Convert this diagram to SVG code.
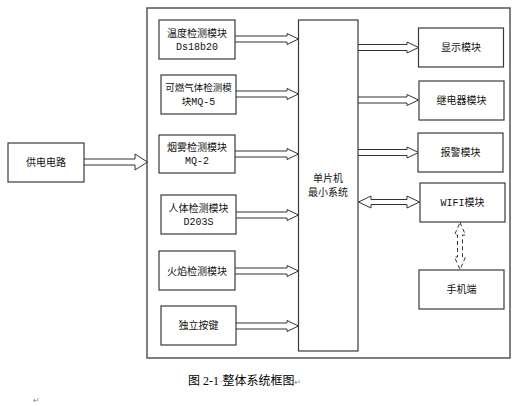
<svg xmlns="http://www.w3.org/2000/svg" width="526" height="406" viewBox="0 0 526 406">
<style>
.box{fill:#fff;stroke:#3a3a3a;stroke-width:1.2}
.outer{fill:none;stroke:#555;stroke-width:1.5}
.t{font-family:"Noto Sans CJK SC","Noto Sans",sans-serif;font-size:10px;fill:#111;text-anchor:middle}
.m{font-family:"Liberation Mono","DejaVu Sans Mono",monospace;font-size:10px;fill:#111;text-anchor:middle}
.mf{font-family:"Liberation Mono","DejaVu Sans Mono",monospace}
.arr{fill:#fff;stroke:#333;stroke-width:1}
.dash{fill:none;stroke:#333;stroke-width:1;stroke-dasharray:4,3}
.cap{font-family:"Liberation Serif","Noto Sans CJK SC",serif;font-size:12px;fill:#000}
.mark{font-family:"DejaVu Sans",sans-serif;font-size:8px;fill:#888}
</style>
<rect width="526" height="406" fill="#fff"/>
<rect id="outer" class="outer" x="147" y="8" width="363" height="350"/>
<g id="connectors">
<path class="arr" d="M84,159 H135 V154 L147.5,162 L135,170 V165 H84"/>
<path class="arr" d="M235,36 H287 V33.5 L298.5,39 L287,44.5 V42 H235"/>
<path class="arr" d="M236,91 H287 V88.5 L298.5,94 L287,99.5 V97 H236"/>
<path class="arr" d="M235,151 H287 V148.5 L298.5,154 L287,159.5 V157 H235"/>
<path class="arr" d="M236,212 H287 V209.5 L298.5,215 L287,220.5 V218 H236"/>
<path class="arr" d="M235,268 H287 V265.5 L298.5,271 L287,276.5 V274 H235"/>
<path class="arr" d="M236,323 H287 V320.5 L298.5,326 L287,331.5 V329 H236"/>
<path class="arr" d="M358,44.5 H407 V42 L418.5,47.5 L407,53 V50.5 H358"/>
<path class="arr" d="M358,97 H407 V94.5 L418.5,100 L407,105.5 V103 H358"/>
<path class="arr" d="M358,149.5 H407 V147 L418.5,152.5 L407,158 V155.5 H358"/>
<path class="arr" d="M358.5,202 L371,196 V199.5 H407 V196 L419.5,202 L407,208 V204.5 H371 V208 Z"/>
<path class="dash" d="M460,222.5 L465.5,235 H462.5 V257 H465.5 L460,269.5 L454.5,257 H457.5 V235 H454.5 Z"/>
</g>
<g id="power"><rect class="box" x="8" y="143" width="76" height="39"/><text class="t" x="46" y="166">供电电路</text></g>
<g id="mcu"><rect class="box" x="298.5" y="20" width="59.5" height="331"/><text class="t" x="328" y="182">单片机</text><text class="t" x="328" y="196">最小系统</text></g>
<g id="temp"><rect class="box" x="159" y="20" width="76" height="39"/><text class="t" x="197" y="37">温度检测模块</text><text class="m" x="197" y="50">Ds18b20</text></g>
<g id="gas"><rect class="box" x="161" y="75" width="75" height="39"/><text class="t" x="198.5" y="91" style="font-size:9.5px">可燃气体检测模</text><text class="t" x="198.5" y="105" style="font-size:9.5px">块<tspan class="mf" style="font-size:10px">MQ-5</tspan></text></g>
<g id="smoke"><rect class="box" x="159" y="135" width="76" height="38"/><text class="t" x="197" y="151">烟雾检测模块</text><text class="m" x="197" y="164">MQ-2</text></g>
<g id="human"><rect class="box" x="161" y="195" width="75" height="39"/><text class="t" x="198.5" y="212">人体检测模块</text><text class="m" x="198.5" y="225">D203S</text></g>
<g id="flame"><rect class="box" x="159" y="251" width="76" height="39"/><text class="t" x="197" y="274.5">火焰检测模块</text></g>
<g id="button"><rect class="box" x="161" y="306" width="75" height="39"/><text class="t" x="198.5" y="329">独立按键</text></g>
<g id="display"><rect class="box" x="418.5" y="28" width="85" height="39"/><text class="t" x="461" y="51">显示模块</text></g>
<g id="relay"><rect class="box" x="419" y="81" width="85" height="39"/><text class="t" x="461.5" y="104">继电器模块</text></g>
<g id="alarm"><rect class="box" x="418" y="133" width="85" height="39"/><text class="t" x="460.5" y="156">报警模块</text></g>
<g id="wifi"><rect class="box" x="420" y="183" width="85" height="39"/><text class="t" x="462.5" y="206"><tspan class="mf">WIFI</tspan>模块</text></g>
<g id="phone"><rect class="box" x="419" y="270" width="85" height="39"/><text class="t" x="461.5" y="293">手机端</text></g>
<text class="cap" x="188" y="385">图 2-1<tspan class="mark" dx="1">·</tspan>整体系统框图<tspan class="mark">↵</tspan></text>
<text class="mark" x="33" y="403">↵</text>
</svg>
